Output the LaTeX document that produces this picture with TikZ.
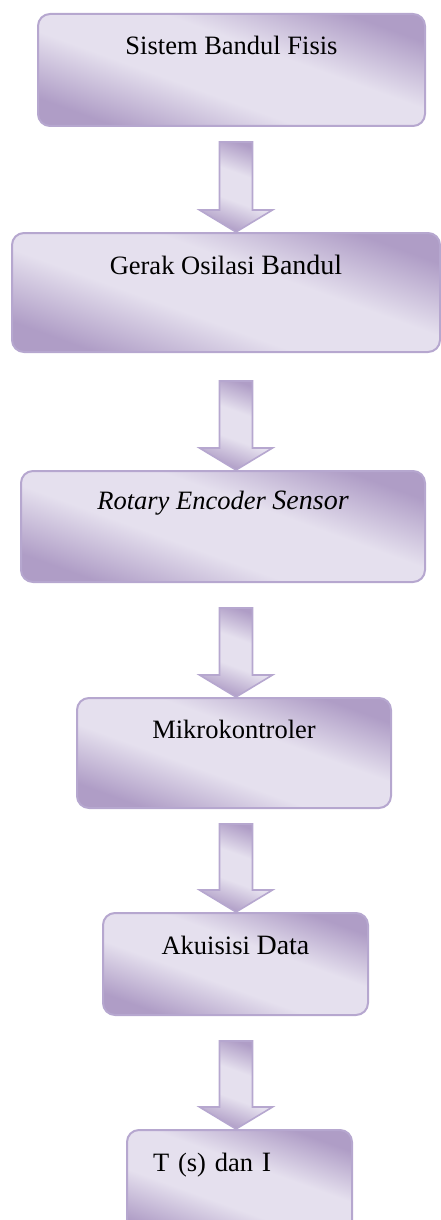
\documentclass[tikz,border=0pt]{standalone}
\usepackage{fontspec}
\setmainfont{Liberation Serif}
\usetikzlibrary{calc}

\definecolor{lavdark}{HTML}{AF9DC6}
\definecolor{lavlight}{HTML}{E5E0EE}
\definecolor{lavline}{HTML}{B6A7CF}

% light band across the middle, darker towards two corners
\pgfdeclareverticalshading{lavshade}{100bp}{color(0bp)=(lavdark); color(25bp)=(lavdark);
  color(42bp)=(lavlight); color(58bp)=(lavlight); color(75bp)=(lavdark); color(100bp)=(lavdark)}

\tikzset{
  lavfill/.style={shade, shading=lavshade, shading angle=-20},
  stage/.style={lavfill, draw=lavline, line width=2pt, rounded corners=12pt,
    inner sep=0pt, anchor=north, font=\fontsize{26.5}{30}\selectfont},
  blockarrow/.style={lavfill, draw=lavline, line width=1.6pt, line join=miter}
}
\newcommand{\bigtext}[1]{{\fontsize{28}{30}\selectfont #1}}

\begin{document}
\begin{tikzpicture}[x=1pt, y=-1pt]
\useasboundingbox (0,0) rectangle (441,1220);

% the stages, top to bottom
\node[stage, minimum width=387pt, text height=41pt, text depth=71pt] (sistem) at (231.5,13) {Sistem Bandul Fisis};
\node[stage, minimum width=428pt, text height=41pt, text depth=78pt] (gerak) at (226,232) {Gerak Osilasi \bigtext{Bandul}};
\node[stage, minimum width=404pt, text height=38pt, text depth=73pt] (sensor) at (223,470) {\itshape Rotary Encoder \bigtext{Sensor}};
\node[stage, minimum width=314pt, text height=40pt, text depth=70pt] (mikro) at (234,697) {Mikrokontroler};
\node[stage, minimum width=265pt, text height=41pt, text depth=61pt] (akuisisi) at (235.5,912) {Akuisisi \bigtext{Data}};
\node[stage, text width=173pt, align=left, inner xsep=26pt, text height=41pt, text depth=70pt] (hasil) at (239.5,1129) {T (s) dan \bigtext{I}};

% fat arrows between the stages
\coordinate (axis) at (236,0);
\foreach \src/\dst/\gap in {sistem/gerak/15, gerak/sensor/28, sensor/mikro/25, mikro/akuisisi/15, akuisisi/hasil/25}
  \filldraw[blockarrow] ($(\src.south -| axis)+(-16.5,\gap)$) -- ($(\dst.north -| axis)+(-16.5,-22)$)
    -- ++(-20,0) -- (\dst.north -| axis) -- ++(36.5,-22) -- ++(-20,0)
    -- ($(\src.south -| axis)+(16.5,\gap)$) -- cycle;
\end{tikzpicture}
\end{document}
